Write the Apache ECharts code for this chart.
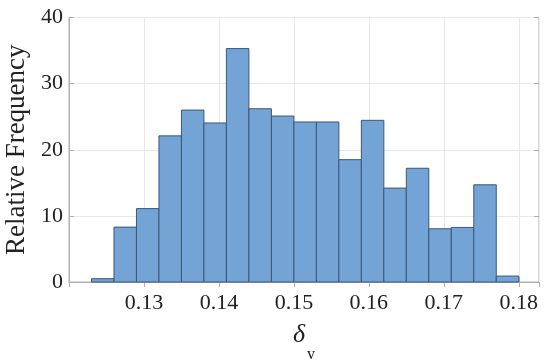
<!DOCTYPE html>
<html><head><meta charset="utf-8">
<script src="https://cdn.jsdelivr.net/npm/echarts@6/dist/echarts.min.js"></script>
<style>html,body{margin:0;padding:0;background:#fff}#c{width:550px;height:363px}</style>
</head><body><div id="c"></div>
<script>
var binStarts = [0.123,0.126,0.129,0.132,0.135,0.138,0.141,0.144,0.147,0.150,0.153,0.156,0.159,0.162,0.165,0.168,0.171,0.174,0.177];
var binWidth = 0.003;
var freqs = [0.5,8.3,11.1,22.1,26.0,24.05,35.3,26.2,25.1,24.2,24.2,18.5,24.45,14.2,17.2,8.05,8.25,14.7,0.9];
var xTicks = [0.13,0.14,0.15,0.16,0.17,0.18];
var yTicks = [0,10,20,30,40];

var font = '"Liberation Serif", "DejaVu Serif", serif';
var chart = echarts.init(document.getElementById('c'), null, {renderer:'canvas'});
var data = binStarts.map(function(s,i){return [s, s+binWidth, freqs[i]];});
var axisGray = '#b0b0b0';
chart.setOption({
  animation:false,
  grid:{left:69,right:11,top:17.5,bottom:81,show:true,borderColor:axisGray,borderWidth:1,containLabel:false,outerBoundsMode:'none'},
  xAxis:[{
    type:'value',min:0.12,max:0.1827,interval:0.01,
    axisLine:{show:true,lineStyle:{color:axisGray}},
    axisTick:{show:true,inside:true,length:5,lineStyle:{color:axisGray}},
    splitLine:{show:true,lineStyle:{color:'#e8e8e8'}},
    axisLabel:{showMinLabel:false,showMaxLabel:false,color:'#222',fontFamily:font,fontSize:22,margin:10,
      formatter:function(v){return xTicks.some(function(t){return Math.abs(t-v)<1e-9;})?v.toFixed(2):'';}},
    name:'{d|δ}{s|v}',nameLocation:'middle',nameGap:40,
    nameTextStyle:{rich:{d:{fontFamily:font,fontStyle:'italic',fontSize:26,color:'#222',verticalAlign:'top'},
      s:{fontFamily:font,fontSize:16,color:'#222',padding:[25,0,0,2],verticalAlign:'bottom'}}}
  },{
    type:'value',position:'top',min:0.12,max:0.1827,interval:0.01,
    axisLine:{show:false},axisLabel:{show:false},splitLine:{show:false},
    axisTick:{show:true,inside:true,length:5,lineStyle:{color:axisGray}}
  }],
  yAxis:[{
    type:'value',min:0,max:40,interval:10,
    axisLine:{show:true,lineStyle:{color:axisGray}},
    axisTick:{show:true,inside:true,length:5,lineStyle:{color:axisGray}},
    splitLine:{show:true,lineStyle:{color:'#e8e8e8'}},
    axisLabel:{color:'#222',fontFamily:font,fontSize:22,margin:6},
    name:'Relative Frequency',nameLocation:'middle',nameGap:36,
    nameTextStyle:{fontFamily:font,fontSize:27,color:'#222'}
  },{
    type:'value',position:'right',min:0,max:40,interval:10,
    axisLine:{show:false},axisLabel:{show:false},splitLine:{show:false},
    axisTick:{show:true,inside:true,length:5,lineStyle:{color:axisGray}}
  }],
  series:[{
    type:'custom',
    xAxisIndex:0,yAxisIndex:0,
    data:data,
    encode:{x:[0,1],y:2},
    renderItem:function(params,api){
      var p0 = api.coord([api.value(0),0]);
      var p1 = api.coord([api.value(1),api.value(2)]);
      return {type:'rect',shape:{x:p0[0],y:p1[1],width:p1[0]-p0[0],height:p0[1]-p1[1]},
        style:{fill:'#73a4d5',stroke:'#3b5878',lineWidth:1}};
    }
  }]
});
</script></body></html>
